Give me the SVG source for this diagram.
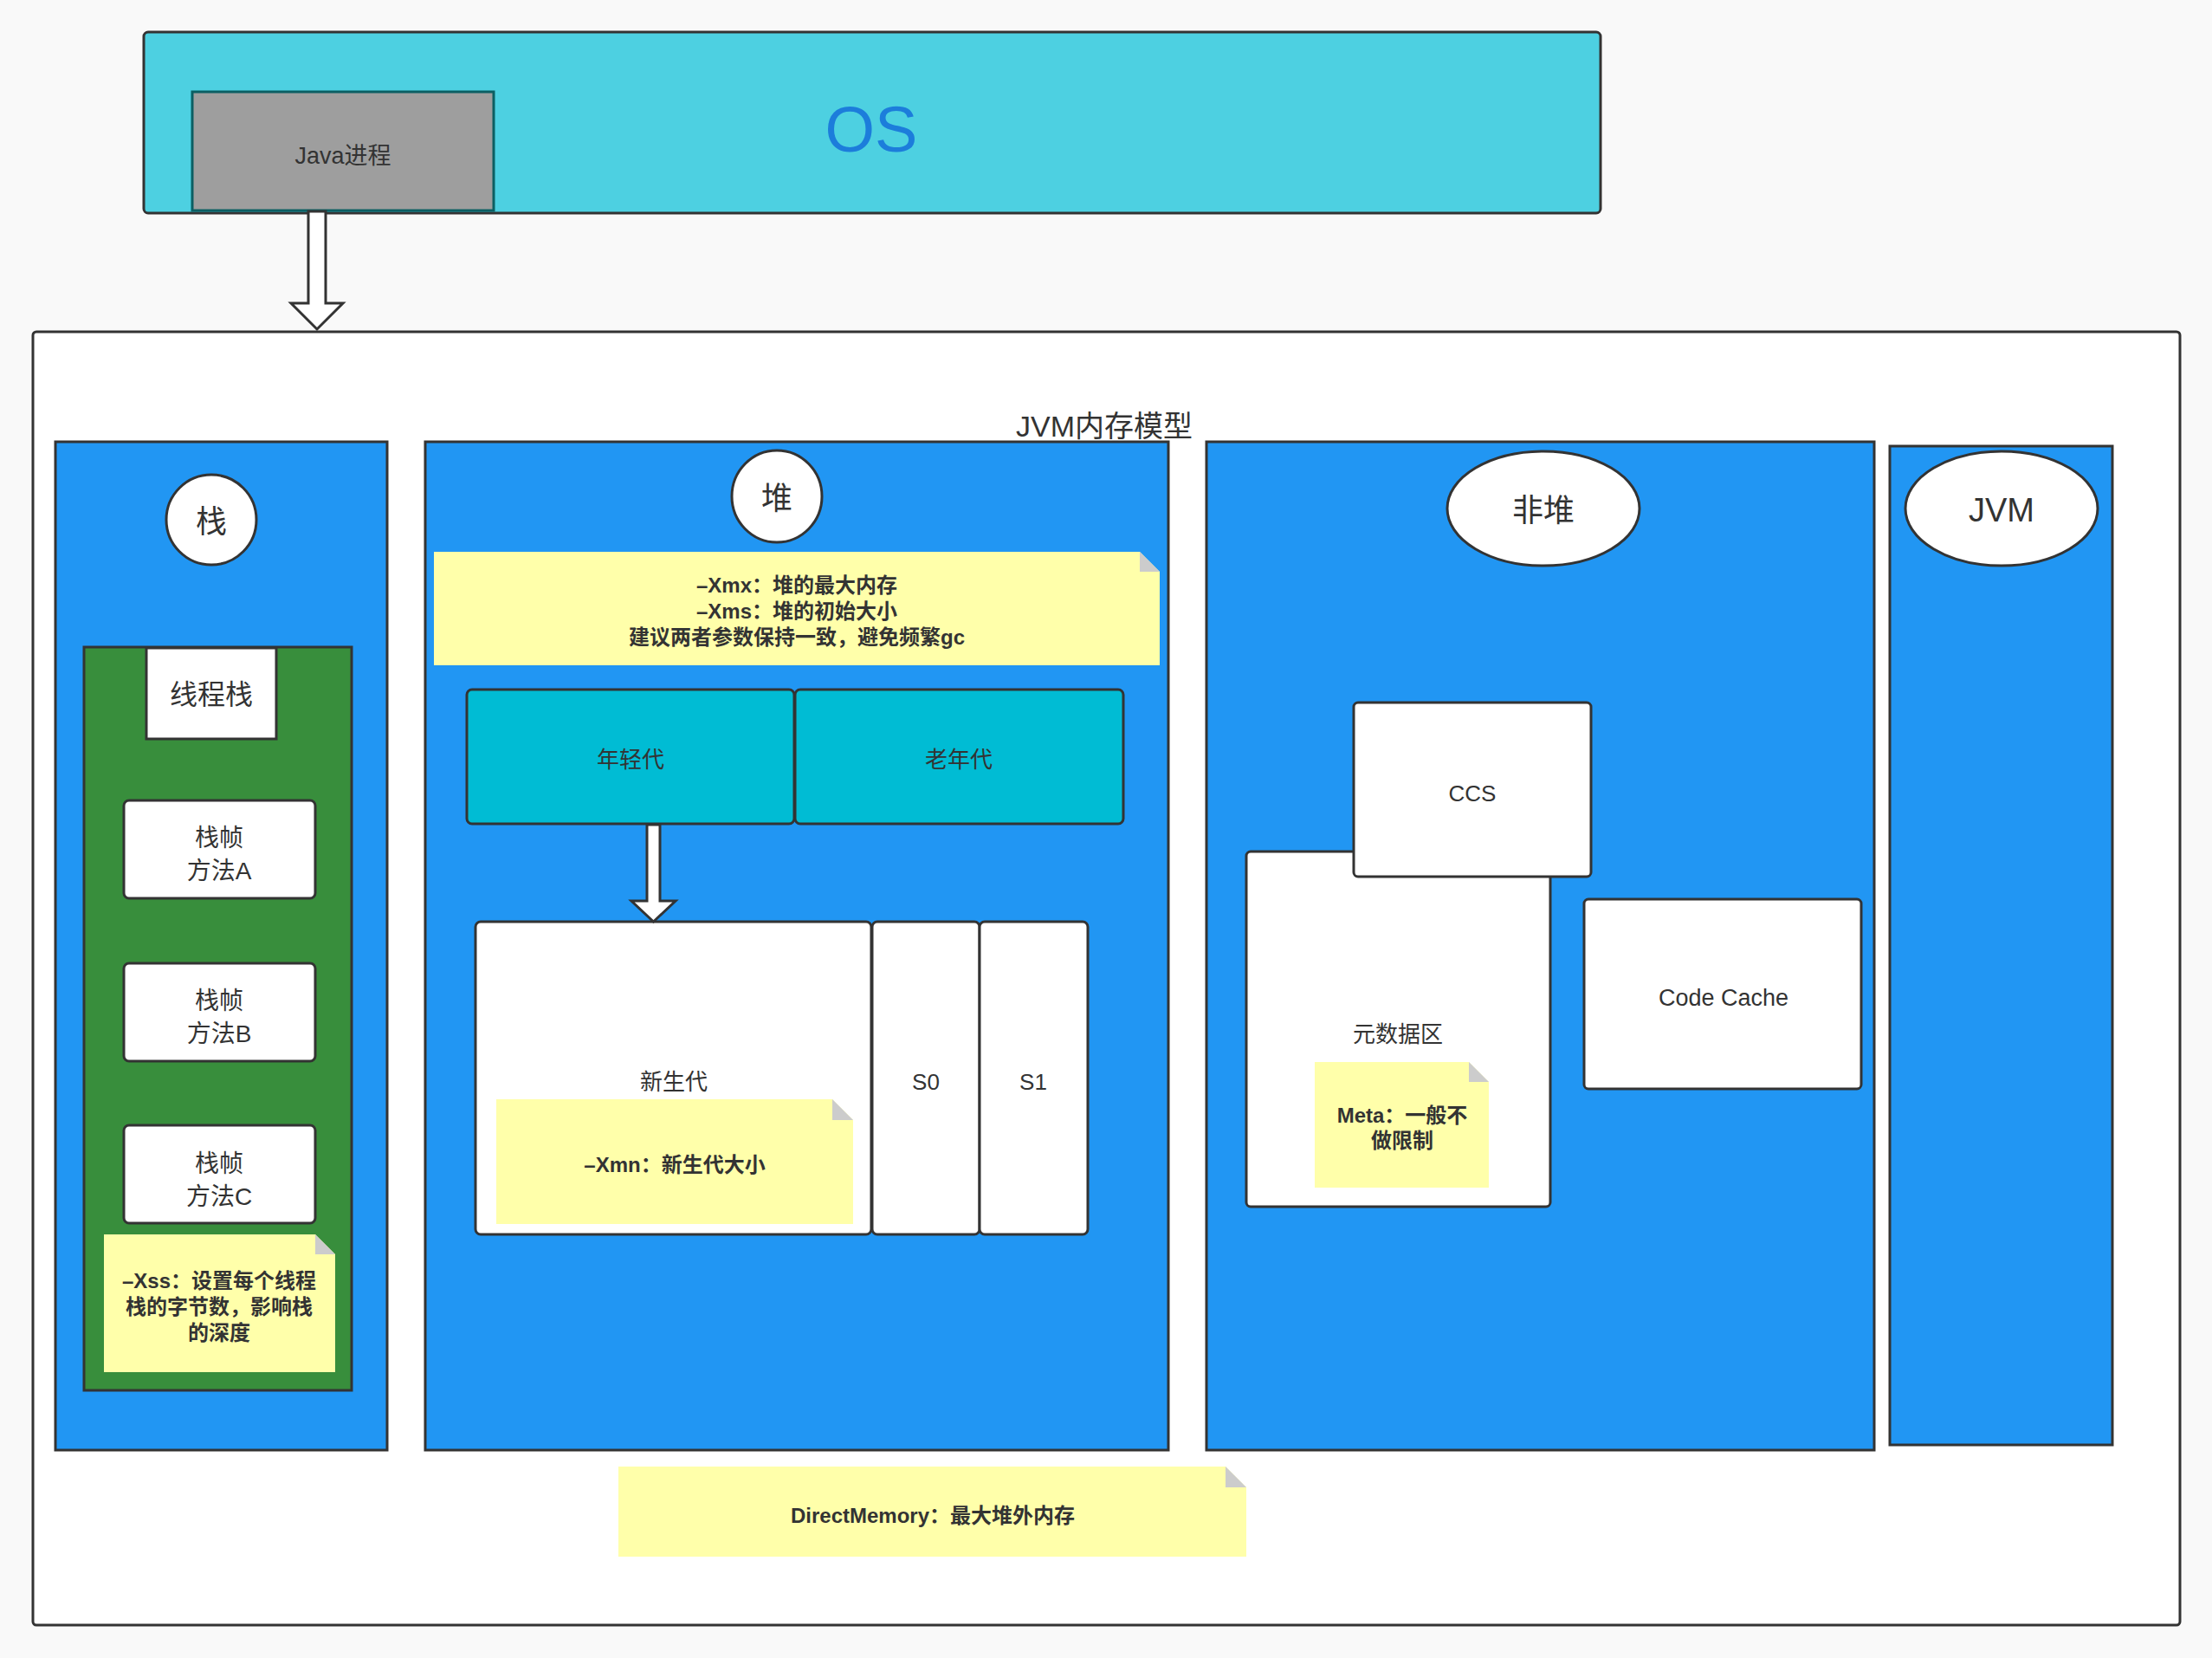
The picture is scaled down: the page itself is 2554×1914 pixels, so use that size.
<svg xmlns="http://www.w3.org/2000/svg" width="2554" height="1914" viewBox="0 0 2554 1914">
<style>
text{font-family:"Liberation Sans","Noto Sans CJK SC",sans-serif;fill:#333;text-anchor:middle;dominant-baseline:central}
.box{stroke:#333;stroke-width:3}
.panel{fill:#2196f3;stroke:#333;stroke-width:3}
.white{fill:#fff;stroke:#333;stroke-width:3}
.cyan{fill:#00bcd4;stroke:#333;stroke-width:3}
.note{fill:#ffffaa}
.fold{fill:#cccccc}
.nt{font-size:24px;font-weight:bold}
.t26{font-size:26px}
.t28{font-size:28px}
.t36{font-size:36px}
.arrow{fill:#fff;stroke:#333;stroke-width:3;stroke-linejoin:miter}
</style>
<rect x="0" y="0" width="2554" height="1914" fill="#f9f9f9"/>

<g id="os">
<rect x="166" y="37" width="1682" height="209" rx="5" fill="#4dd0e1" class="box"/>
<text x="1006" y="149" style="font-size:74px;fill:#1c7ddb">OS</text>
</g>
<g id="java-process">
<rect x="222" y="106" width="348" height="137" fill="#9e9e9e" stroke="#0b5f63" stroke-width="3"/>
<text x="396" y="180" style="font-size:27px">Java进程</text>
</g>

<g id="jvm-model">
<rect x="38" y="383" width="2479" height="1493" rx="4" fill="#fff" class="box"/>
<text x="1275" y="492" style="font-size:34px">JVM内存模型</text>
</g>

<g id="stack">
<rect x="64" y="510" width="383" height="1164" class="panel"/>
<ellipse cx="244" cy="600" rx="52" ry="52" class="white"/>
<text x="244" y="602" class="t36">栈</text>
</g>
<g id="thread-stack">
<rect x="97" y="747" width="309" height="858" fill="#388e3c" class="box"/>
<rect x="169" y="748" width="150" height="105" class="white"/>
<text x="244" y="802" style="font-size:32px">线程栈</text>
</g>
<g id="frame-a">
<rect x="143" y="924" width="221" height="113" rx="6" class="white"/>
<text x="253" y="967" class="t28">栈帧</text>
<text x="253" y="1005" class="t28">方法A</text>
</g>
<g id="frame-b">
<rect x="143" y="1112" width="221" height="113" rx="6" class="white"/>
<text x="253" y="1155" class="t28">栈帧</text>
<text x="253" y="1193" class="t28">方法B</text>
</g>
<g id="frame-c">
<rect x="143" y="1299" width="221" height="113" rx="6" class="white"/>
<text x="253" y="1343" class="t28">栈帧</text>
<text x="253" y="1381" class="t28">方法C</text>
</g>
<g id="note-xss">
<path d="M120 1425 H364 L387 1448 V1584 H120 Z" class="note"/>
<path d="M364 1425 L387 1448 H364 Z" class="fold"/>
<text x="253" y="1478" class="nt">–Xss：设置每个线程</text>
<text x="253" y="1508" class="nt">栈的字节数，影响栈</text>
<text x="253" y="1538" class="nt">的深度</text>
</g>

<g id="heap">
<rect x="491" y="510" width="858" height="1164" class="panel"/>
<ellipse cx="897" cy="573" rx="52" ry="53" class="white"/>
<text x="897" y="575" class="t36">堆</text>
</g>
<g id="note-heap">
<path d="M501 637 H1316 L1339 660 V768 H501 Z" class="note"/>
<path d="M1316 637 L1339 660 H1316 Z" class="fold"/>
<text x="920" y="675" class="nt">–Xmx：堆的最大内存</text>
<text x="920" y="705" class="nt">–Xms：堆的初始大小</text>
<text x="920" y="735" class="nt">建议两者参数保持一致，避免频繁gc</text>
</g>
<g id="young">
<rect x="539" y="796" width="378" height="155" rx="6" class="cyan"/>
<text x="728" y="877" class="t26">年轻代</text>
</g>
<g id="old">
<rect x="918" y="796" width="379" height="155" rx="6" class="cyan"/>
<text x="1107" y="877" class="t26">老年代</text>
</g>
<g id="eden">
<rect x="549" y="1064" width="457" height="361" rx="6" class="white"/>
<text x="778" y="1249" class="t26">新生代</text>
</g>
<g id="note-xmn">
<path d="M573 1269 H961 L985 1293 V1413 H573 Z" class="note"/>
<path d="M961 1269 L985 1293 H961 Z" class="fold"/>
<text x="779" y="1344" class="nt">–Xmn：新生代大小</text>
</g>
<g id="s0">
<rect x="1007" y="1064" width="124" height="361" rx="6" class="white"/>
<text x="1069" y="1249" class="t26">S0</text>
</g>
<g id="s1">
<rect x="1131" y="1064" width="125" height="361" rx="6" class="white"/>
<text x="1193" y="1249" class="t26">S1</text>
</g>

<g id="non-heap">
<rect x="1393" y="510" width="771" height="1164" class="panel"/>
<ellipse cx="1782" cy="587" rx="111" ry="66" class="white"/>
<text x="1782" y="589" class="t36">非堆</text>
</g>
<g id="metaspace">
<rect x="1439" y="983" width="351" height="410" rx="5" class="white"/>
<text x="1614" y="1194" class="t26">元数据区</text>
</g>
<g id="note-meta">
<path d="M1518 1226 H1696 L1719 1249 V1371 H1518 Z" class="note"/>
<path d="M1696 1226 L1719 1249 H1696 Z" class="fold"/>
<text x="1619" y="1287" class="nt">Meta：一般不</text>
<text x="1619" y="1316" class="nt">做限制</text>
</g>
<g id="ccs">
<rect x="1563" y="811" width="274" height="201" rx="5" class="white"/>
<text x="1700" y="916" class="t26">CCS</text>
</g>
<g id="code-cache">
<rect x="1829" y="1038" width="320" height="219" rx="5" class="white"/>
<text x="1990" y="1152" style="font-size:27px">Code Cache</text>
</g>

<g id="jvm">
<rect x="2182" y="515" width="257" height="1153" class="panel"/>
<ellipse cx="2311" cy="587" rx="111" ry="66" class="white"/>
<text x="2311" y="589" style="font-size:38px">JVM</text>
</g>

<g id="note-direct">
<path d="M714 1693 H1415 L1439 1717 V1797 H714 Z" class="note"/>
<path d="M1415 1693 L1439 1717 H1415 Z" class="fold"/>
<text x="1077" y="1749" class="nt">DirectMemory：最大堆外内存</text>
</g>

<g id="connectors">
<path d="M356 244 H376 V350 H396 L366 380 L336 350 H356 Z" class="arrow"/>
<path d="M747 952 H762 V1040 H780 L754.5 1064 L729 1040 H747 Z" class="arrow"/>
</g>
</svg>
